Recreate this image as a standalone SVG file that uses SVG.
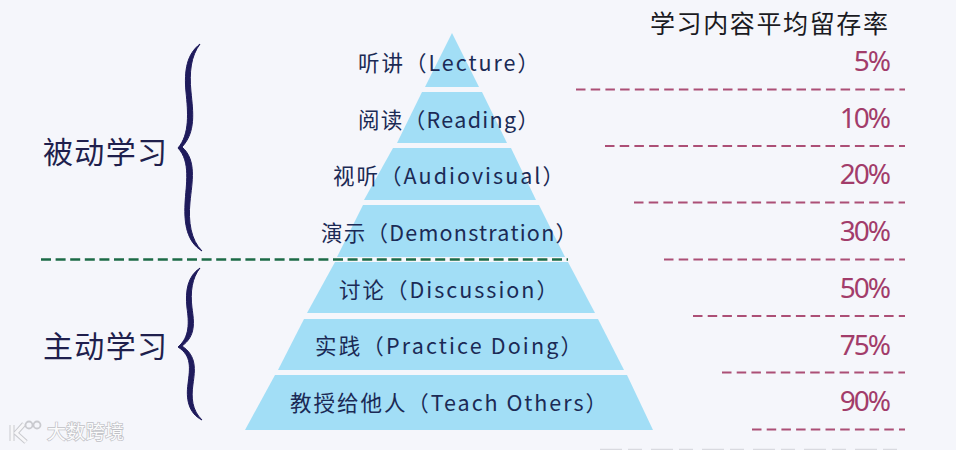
<svg xmlns="http://www.w3.org/2000/svg" width="956" height="450" viewBox="0 0 956 450">
<style>
text{font-family:"Noto Sans CJK SC","Noto Sans",sans-serif}
.band{fill:#a2def6}
.lbl{font-size:21.5px;fill:#1b2a55}
.pct{font-size:28px;fill:#a23c6a;text-anchor:end;font-family:"Noto Sans","Noto Sans CJK SC",sans-serif;letter-spacing:-2px}
.side{font-size:30px;fill:#1f1f4d}
.dash{stroke:#ac4f76;stroke-width:2.2;stroke-dasharray:9.5 5.2;fill:none}
.brace{fill:#1f1b5c;stroke:#1f1b5c;stroke-width:1}
</style>
<rect width="956" height="450" fill="#f5f6fb"/>
<g id="connectors">
<line class="dash" x1="576" y1="89.5" x2="905" y2="89.5"/>
<line class="dash" x1="605" y1="146" x2="905" y2="146"/>
<line class="dash" x1="634" y1="202.5" x2="905" y2="202.5"/>
<line class="dash" x1="664" y1="259.5" x2="905" y2="259.5"/>
<line class="dash" x1="693" y1="316" x2="905" y2="316"/>
<line class="dash" x1="722" y1="372.5" x2="905" y2="372.5"/>
<line class="dash" x1="752" y1="429.5" x2="905" y2="429.5"/>
</g>
<g id="node-lecture"><polygon class="band" points="452,33 425,87 479,87"/><text class="lbl" x="358" y="71" textLength="181">听讲（Lecture）</text><text class="pct" x="889" y="71">5%</text></g>
<g id="node-reading"><polygon class="band" points="422,92 482,92 507,143 397,143"/><text class="lbl" x="358" y="128" textLength="181">阅读（Reading）</text><text class="pct" x="889" y="128">10%</text></g>
<g id="node-audiovisual"><polygon class="band" points="393,148 511,148 536,200 364,200"/><text class="lbl" x="333" y="184" textLength="231">视听（Audiovisual）</text><text class="pct" x="889" y="184">20%</text></g>
<g id="node-demonstration"><polygon class="band" points="363,205 539,205 565,257 337,257"/><text class="lbl" x="321" y="241" textLength="256">演示（Demonstration）</text><text class="pct" x="889" y="241">30%</text></g>
<g id="node-discussion"><polygon class="band" points="335,262 568,262 595,313 307,313"/><text class="lbl" x="339" y="298" textLength="219">讨论（Discussion）</text><text class="pct" x="889" y="298">50%</text></g>
<g id="node-practice"><polygon class="band" points="304,319 598,319 624,370 278,370"/><text class="lbl" x="315" y="354" textLength="267">实践（Practice Doing）</text><text class="pct" x="889" y="355">75%</text></g>
<g id="node-teach"><polygon class="band" points="275,375 627,375 653,430 245,430"/><text class="lbl" x="290" y="411" textLength="317">教授给他人（Teach Others）</text><text class="pct" x="889" y="411">90%</text></g>
<g id="divider"><line x1="41" y1="259.5" x2="568" y2="259.5" stroke="#1c6b47" stroke-width="2.4" stroke-dasharray="10 4.6"/></g>
<g id="node-passive">
<path class="brace" d="M200,44C191,56 189,72 191,92C193,112 196,132 182,147C197,160 192,182 190,202C188,222 191,240 202,251C187,242 184,224 185,204C186,184 191,162 178,148C190,134 188,112 186,92C184,70 187,54 200,44Z"/>
<text class="side" x="43" y="163" textLength="124">被动学习</text>
</g>
<g id="node-active">
<path class="brace" d="M200,268C192,278 190,292 192,308C194,322 196,336 182,346C197,356 195,370 193,384C191,398 192,410 202,420C188,413 186,398 188,384C190,368 192,356 178,347C190,337 189,322 187,308C185,290 188,276 200,268Z"/>
<text class="side" x="43" y="357" textLength="124">主动学习</text>
</g>
<g id="node-title"><text x="650" y="33" font-size="25" fill="#1a1a22" textLength="238">学习内容平均留存率</text></g>
<g id="watermark">
<path d="M12,425V441M24,424L16,433L26,442" fill="none" stroke="#c9cacf" stroke-width="5"/>
<path d="M12,425V441M24,424L16,433L26,442" fill="none" stroke="#f7f7f9" stroke-width="3"/>
<circle cx="29" cy="425" r="3.5" fill="none" stroke="#c9cacf" stroke-width="1.8"/>
<circle cx="37" cy="425" r="3.5" fill="none" stroke="#c9cacf" stroke-width="1.8"/>
<text x="47" y="439" font-size="19" fill="#fbfbfc" stroke="#bfc0c5" stroke-width="1.4" paint-order="stroke" textLength="77">大数跨境</text>
</g>
<line id="bottom-strip" x1="600" y1="449.5" x2="905" y2="449.5" stroke="#d9dae0" stroke-width="1.5" stroke-dasharray="22 6 14 9"/>
</svg>
